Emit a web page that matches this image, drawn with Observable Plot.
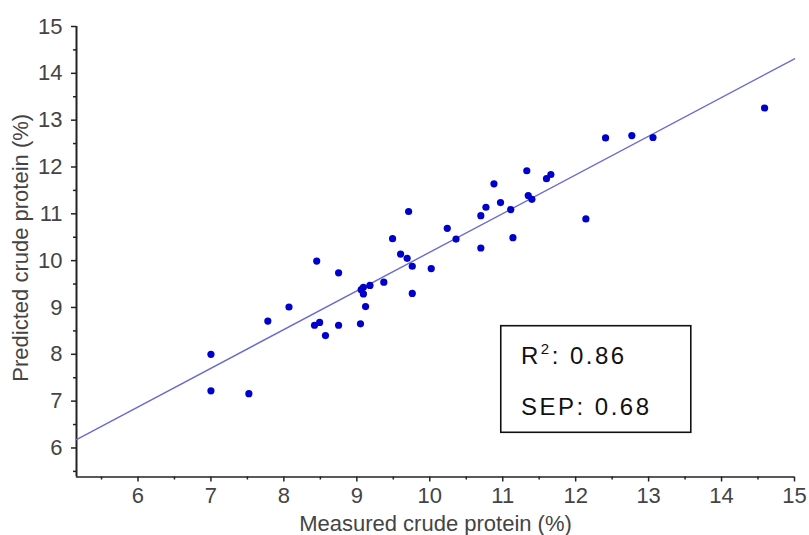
<!DOCTYPE html>
<html>
<head>
<meta charset="utf-8">
<script src="https://cdn.jsdelivr.net/npm/d3@7"></script>
<script src="https://cdn.jsdelivr.net/npm/@observablehq/plot@0.6"></script>
<style>
  html, body { margin: 0; padding: 0; background: #fff; }
  #chart svg { display: block; }
</style>
</head>
<body>
<div id="chart"></div>
<script>
// Measured vs predicted crude protein (%)
const measured = [7.00, 7.00, 7.52, 7.78, 8.07, 8.42, 8.49, 8.45, 8.57, 8.75, 8.75, 9.05,
  9.12, 9.09, 9.06, 9.09, 9.18, 9.37, 9.49, 9.60, 9.69, 9.71, 9.76, 9.76, 10.02, 10.24,
  10.36, 10.70, 10.70, 10.77, 10.88, 10.97, 11.11, 11.14, 11.33, 11.35, 11.40, 11.60,
  11.66, 12.14, 12.41, 12.77, 13.06, 14.59];
const predicted = [8.00, 7.22, 7.16, 8.71, 9.01, 8.62, 8.68, 9.99, 8.40, 9.74, 8.62, 8.65,
  9.02, 9.43, 9.38, 9.29, 9.47, 9.54, 10.47, 10.14, 10.05, 11.05, 9.88, 9.30, 9.83, 10.69,
  10.46, 10.96, 10.27, 11.14, 11.64, 11.24, 11.09, 10.49, 11.92, 11.39, 11.31, 11.75,
  11.84, 10.89, 12.62, 12.67, 12.63, 13.26];

// Regression line end points
const fitX = [5.157, 15];
const fitY = [6.18, 14.31];

// Axes
const xDomain = [5.157, 15];
const yDomain = [5.38, 15];
const xMajorTicks = [6, 7, 8, 9, 10, 11, 12, 13, 14, 15];
const xMinorTicks = [5.5, 6.5, 7.5, 8.5, 9.5, 10.5, 11.5, 12.5, 13.5, 14.5];
const yMajorTicks = [6, 7, 8, 9, 10, 11, 12, 13, 14, 15];
const yMinorTicks = [5.5, 6.5, 7.5, 8.5, 9.5, 10.5, 11.5, 12.5, 13.5, 14.5];
const xLabel = "Measured crude protein (%)";
const yLabel = "Predicted crude protein (%)";

// Statistics box
const statLabels = ["R\u00B2: 0.86", "SEP: 0.68"];
const statX = [11.25, 11.25];
const statY = [7.95, 6.87];
const statBox = [{x1: 10.98, x2: 13.585, y1: 6.324, y2: 8.60}];

const points = measured.map((m, i) => ({m, p: predicted[i]}));
const fit = fitX.map((x, i) => ({x, y: fitY[i]}));
const stats = statLabels.map((t, i) => ({t, x: statX[i], y: statY[i]}));

const axisColor = "#222";
const textColor = "#444";
const font = "'Liberation Sans', Arial, sans-serif";

const chart = Plot.plot({
  width: 809,
  height: 535,
  marginLeft: 76,
  marginRight: 15,
  marginTop: 26,
  marginBottom: 58.5,
  style: {fontFamily: font, background: "#fff"},
  x: {domain: xDomain, label: null},
  y: {domain: yDomain, label: null},
  marks: [
    Plot.axisX(xMajorTicks, {anchor: "bottom", tickSize: 5, tickPadding: 5, fontSize: 22,
      stroke: axisColor, fill: textColor, strokeWidth: 1.5, label: null}),
    Plot.axisX(xMinorTicks, {anchor: "bottom", tickSize: 3, tickFormat: () => "",
      stroke: axisColor, strokeWidth: 1.5, label: null}),
    Plot.axisY(yMajorTicks, {anchor: "left", tickSize: 5, tickPadding: 9, fontSize: 22,
      stroke: axisColor, fill: textColor, strokeWidth: 1.5, label: null}),
    Plot.axisY(yMinorTicks, {anchor: "left", tickSize: 3, tickFormat: () => "",
      stroke: axisColor, strokeWidth: 1.5, label: null}),
    Plot.ruleX([xDomain[0]], {stroke: axisColor, strokeWidth: 2}),
    Plot.ruleY([yDomain[0]], {stroke: axisColor, strokeWidth: 1.6}),
    Plot.line(fit, {x: "x", y: "y", stroke: "#6a6ad2", strokeWidth: 1.4}),
    Plot.dot(points, {x: "m", y: "p", r: 3.6, fill: "#0000cc", stroke: null}),
    Plot.rect(statBox, {x1: "x1", x2: "x2", y1: "y1", y2: "y2", fill: "none",
      stroke: "#111", strokeWidth: 1.6}),
    Plot.text(stats, {x: "x", y: "y", text: "t", textAnchor: "start", lineAnchor: "middle",
      fontSize: 24, fill: "#111"}),
    Plot.text([xLabel], {frameAnchor: "bottom", dy: 47, textAnchor: "middle", lineAnchor: "middle",
      fontSize: 22, fill: textColor}),
    Plot.text([yLabel], {frameAnchor: "left", dx: -56, dy: -4, rotate: -90,
      textAnchor: "middle", lineAnchor: "middle", fontSize: 22, fill: textColor})
  ]
});

const NS = "http://www.w3.org/2000/svg";
chart.querySelectorAll("text").forEach(t => {
  const s = t.textContent;
  if (!statLabels.includes(s)) return;
  t.setAttribute("letter-spacing", "2.5");
  if (s.includes("\u00B2")) {
    const [before, after] = s.split("\u00B2");
    while (t.firstChild) t.removeChild(t.firstChild);
    const a = document.createElementNS(NS, "tspan");
    a.textContent = before;
    const sup = document.createElementNS(NS, "tspan");
    sup.textContent = "2";
    sup.setAttribute("font-size", "15");
    sup.setAttribute("dy", "-10");
    const b = document.createElementNS(NS, "tspan");
    b.textContent = after;
    b.setAttribute("dy", "10");
    t.appendChild(a); t.appendChild(sup); t.appendChild(b);
  }
});
document.getElementById("chart").appendChild(chart);
</script>
</body>
</html>
